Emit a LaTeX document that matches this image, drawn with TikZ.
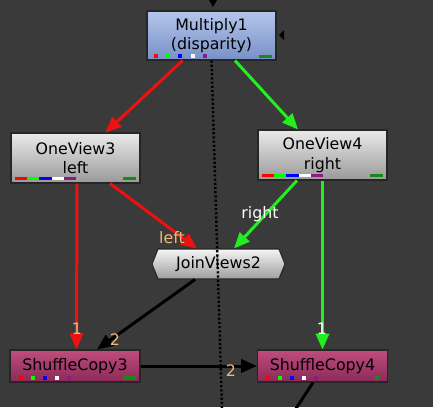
\documentclass[tikz,border=0pt]{standalone}
\usepackage{fontspec}
\setmainfont{DejaVu Sans}
\usetikzlibrary{arrows.meta,shapes.symbols}
\definecolor{bgdark}{HTML}{3A3A3A}
\definecolor{wirered}{HTML}{EE1111}
\definecolor{wiregreen}{HTML}{22EE22}
\definecolor{lblorange}{HTML}{F0B878}
\definecolor{chgreen}{HTML}{148C14}
\definecolor{chpurple}{HTML}{8C1A8C}
\definecolor{multop}{HTML}{B4C6EC}
\definecolor{mulbot}{HTML}{7890C6}
\definecolor{shuftop}{HTML}{C04C7C}
\definecolor{shufbot}{HTML}{8A2A58}
\tikzset{
  nukenode/.style={draw=black!85,line width=0.6pt,align=center,inner sep=1pt,
    font=\fontsize{9}{11}\selectfont,text=black},
  mulnode/.style={nukenode,top color=multop,bottom color=mulbot,
    minimum width=2.58cm,minimum height=0.98cm},
  viewnode/.style={nukenode,top color=black!8,bottom color=black!40,
    minimum width=2.58cm,minimum height=1.0cm},
  shufnode/.style={nukenode,top color=shuftop,bottom color=shufbot,
    minimum width=2.6cm,minimum height=0.64cm},
  joinnode/.style={nukenode,signal,signal to=west and east,signal pointer angle=136,
    top color=black!4,bottom color=black!38,minimum width=2.66cm,minimum height=0.6cm},
  wire/.style={line width=1.7pt,-{Triangle[length=9pt,width=7.5pt]}},
  lbl/.style={font=\fontsize{9}{11}\selectfont,inner sep=0pt}
}
\begin{document}
\begin{tikzpicture}[x=0.02cm,y=-0.02cm]
  \fill[bgdark] (0,0) rectangle (433,407);
  \useasboundingbox (0,0) rectangle (433,407);

  \node[mulnode] (mul) at (211.5,35.5) {Multiply1\\(disparity)};
  \node[viewnode] (ov3) at (75.5,158) {OneView3\\left};
  \node[viewnode] (ov4) at (322.5,155) {OneView4\\right};
  \node[joinnode] (join) at (218.5,264) {JoinViews2};
  \node[shufnode] (sc3) at (75,366) {ShuffleCopy3};
  \node[shufnode] (sc4) at (322.5,366) {ShuffleCopy4};

  % channel marks
  \foreach \c [count=\i from 0] in {red,green,blue,white,chpurple} {
    \fill[\c] (154+12.2*\i,54) rectangle ++(4,4);
    \fill[\c] (15+12.2*\i,177) rectangle ++(12.2,3);
    \fill[\c] (262+12.2*\i,174) rectangle ++(12.2,3);
    \fill[\c] (19+12*\i,376) rectangle ++(4,4);
    \fill[\c] (266+12*\i,376) rectangle ++(4,4);
  }
  \fill[chgreen] (259,55) rectangle (272,58);
  \fill[chgreen] (123,177) rectangle (136,180);
  \fill[chgreen] (370,174) rectangle (383,177);
  \fill[chgreen] (123,376) rectangle (136,380);
  \fill[chgreen] (375,376) rectangle (379,380);

  % input arrows of Multiply1
  \fill[black] (209,0) -- (217,0) -- (213,7) -- cycle;
  \fill[black] (279,35) -- (284,30) -- (284,40) -- cycle;

  \draw[wire,wirered] ([xshift=-0.58cm]mul.south) -- ([xshift=0.6cm]ov3.north);
  \draw[wire,wiregreen] ([xshift=0.47cm]mul.south) -- ([xshift=-0.49cm]ov4.north);
  \draw[wire,wirered] ([xshift=0.03cm]ov3.south) -- ([xshift=0.03cm]sc3.north);
  \draw[wire,wirered] ([xshift=0.69cm]ov3.south) -- ([xshift=-0.43cm]join.north);
  \draw[wire,wiregreen] ([xshift=-0.51cm]ov4.south) -- ([xshift=0.31cm]join.north);
  \draw[wire,wiregreen] (ov4.south) -- (sc4.north);
  \draw[wire,black] ([xshift=-0.47cm]join.south) -- ([xshift=0.44cm]sc3.north);
  \draw[wire,black] (sc3.east) -- (sc4.west);
  \coordinate (out) at (295,410);
  \draw[line width=1.7pt,black] ([xshift=-0.19cm]sc4.south) -- (out);

  \coordinate (viewend) at (222,410);
  \draw[black,line width=1.4pt,dash pattern=on 1.2pt off 1.2pt] (mul.south) -- (viewend);

  \node[lbl,text=lblorange] (lleft) at (172,238) {left};
  \node[lbl,text=white] (lright) at (260,214) {right};
  \node[lbl,text=lblorange] (lone3) at (77,329) {1};
  \node[lbl,text=lblorange] (ltwo3) at (115,340) {2};
  \node[lbl,text=white] (lone4) at (322,329) {1};
  \node[lbl,text=lblorange] (ltwo4) at (231,371) {2};
\end{tikzpicture}
\end{document}
